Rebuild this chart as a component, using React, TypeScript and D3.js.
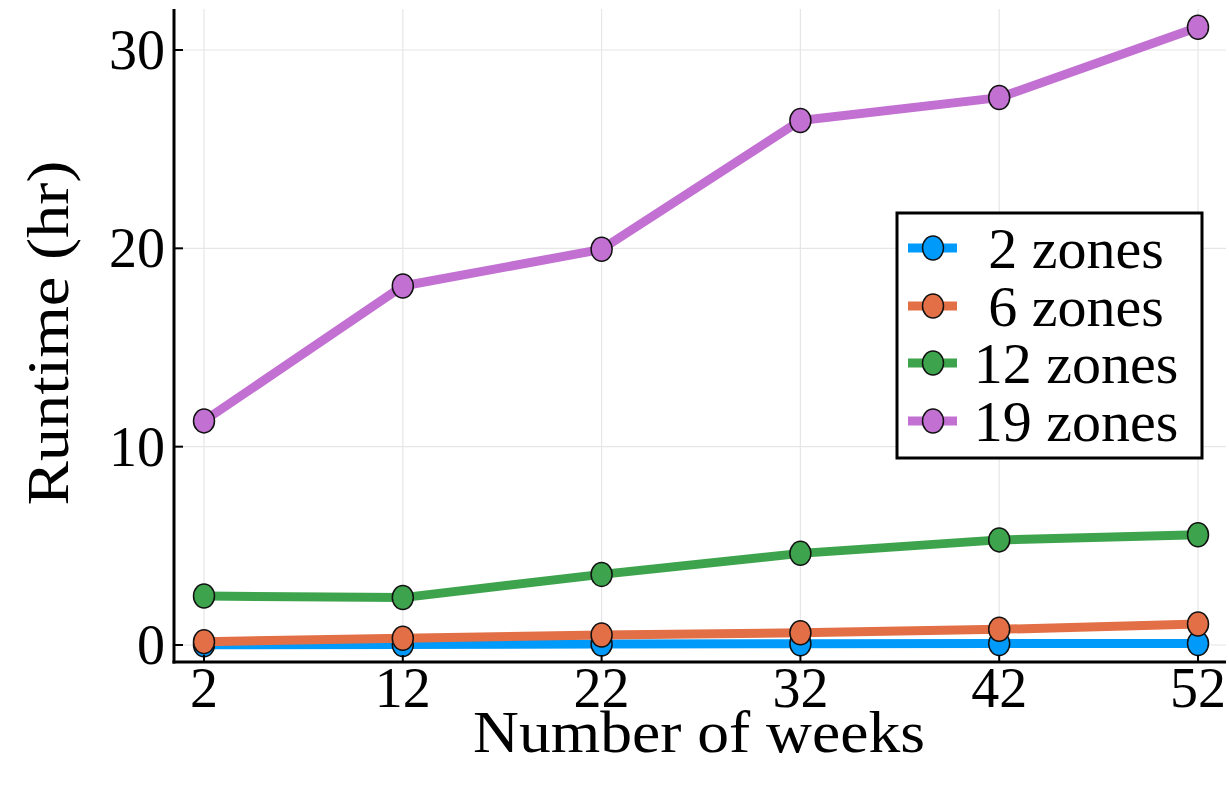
import React from "react";
import * as d3 from "d3";

// Runtime (hours) by planning horizon, for each number of zones
const weeks = [2, 12, 22, 32, 42, 52];
const zones2 = [0.01, 0.03, 0.05, 0.06, 0.07, 0.08];
const zones6 = [0.17, 0.34, 0.5, 0.62, 0.79, 1.06];
const zones12 = [2.47, 2.39, 3.56, 4.62, 5.3, 5.56];
const zones19 = [11.3, 18.1, 19.95, 26.45, 27.6, 31.15];

const seriesNames = ["2 zones", "6 zones", "12 zones", "19 zones"];
const seriesColors = ["#009AFA", "#E26F46", "#3DA44D", "#C271D2"];
const yTicks = [0, 10, 20, 30];

const W = 1229;
const H = 790;
const FONT = "'Liberation Serif', 'DejaVu Serif', serif";

export default function App() {
  const x = d3.scaleLinear().domain([2, 52]).range([204, 1198]);
  const y = d3.scaleLinear().domain([0, 30]).range([645, 50]);

  const left = 174;
  const right = 1226;
  const top = 9;
  const bottom = 662;

  const allSeries = [zones2, zones6, zones12, zones19];
  const line = d3
    .line<number>()
    .x((_, i) => x(weeks[i]))
    .y((d) => y(d));

  const legendRows = [248, 306, 363, 421];

  return (
    <svg
      width={W}
      height={H}
      style={{ position: "absolute", left: 0, top: 0, background: "#fff" }}
      fontFamily={FONT}
    >
      {/* grid */}
      {weeks.map((w) => (
        <line key={"gx" + w} x1={x(w)} x2={x(w)} y1={top} y2={bottom} stroke="#e6e6e6" strokeWidth={1.2} />
      ))}
      {yTicks.map((t) => (
        <line key={"gy" + t} x1={left} x2={right} y1={y(t)} y2={y(t)} stroke="#e6e6e6" strokeWidth={1.2} />
      ))}

      {/* series */}
      {allSeries.map((s, si) => (
        <g key={"s" + si}>
          <path d={line(s) || ""} fill="none" stroke={seriesColors[si]} strokeWidth={9} strokeLinejoin="round" />
          {s.map((v, i) => (
            <ellipse
              key={i}
              cx={x(weeks[i])}
              cy={y(v)}
              rx={10.5}
              ry={12}
              fill={seriesColors[si]}
              stroke="#111"
              strokeWidth={1.5}
            />
          ))}
        </g>
      ))}

      {/* axes */}
      <line x1={left} x2={left} y1={top} y2={bottom + 1.5} stroke="#000" strokeWidth={3} />
      <line x1={left - 1.5} x2={right} y1={bottom} y2={bottom} stroke="#000" strokeWidth={3} />
      {yTicks.map((t) => (
        <line key={"ty" + t} x1={left} x2={left + 9} y1={y(t)} y2={y(t)} stroke="#000" strokeWidth={2} />
      ))}
      {weeks.map((w) => (
        <line key={"tx" + w} x1={x(w)} x2={x(w)} y1={bottom} y2={bottom - 7} stroke="#000" strokeWidth={2} />
      ))}

      {/* tick labels */}
      {yTicks.map((t) => (
        <text key={"ly" + t} x={165} y={y(t) + 19} textAnchor="end" fontSize={56} fill="#000">
          {t}
        </text>
      ))}
      {weeks.map((w) => (
        <text key={"lx" + w} x={x(w)} y={707} textAnchor="middle" fontSize={56} fill="#000">
          {w}
        </text>
      ))}

      {/* axis titles */}
      <text
        x={699}
        y={752}
        textAnchor="middle"
        fontSize={60}
        textLength={452}
        lengthAdjust="spacingAndGlyphs"
        fill="#000"
      >
        Number of weeks
      </text>
      <text
        transform="translate(68,333) rotate(-90)"
        textAnchor="middle"
        fontSize={60}
        textLength={345}
        lengthAdjust="spacingAndGlyphs"
        fill="#000"
      >
        Runtime (hr)
      </text>

      {/* legend */}
      <rect x={897} y={213} width={305} height={245} fill="#fff" stroke="#000" strokeWidth={3} />
      {seriesNames.map((name, i) => (
        <g key={"lg" + i}>
          <line x1={908} x2={957} y1={legendRows[i]} y2={legendRows[i]} stroke={seriesColors[i]} strokeWidth={9} />
          <ellipse cx={933} cy={legendRows[i]} rx={10.5} ry={12} fill={seriesColors[i]} stroke="#111" strokeWidth={1.5} />
          <text x={1076} y={legendRows[i] + 20} textAnchor="middle" fontSize={58} fill="#000">
            {name}
          </text>
        </g>
      ))}
    </svg>
  );
}
